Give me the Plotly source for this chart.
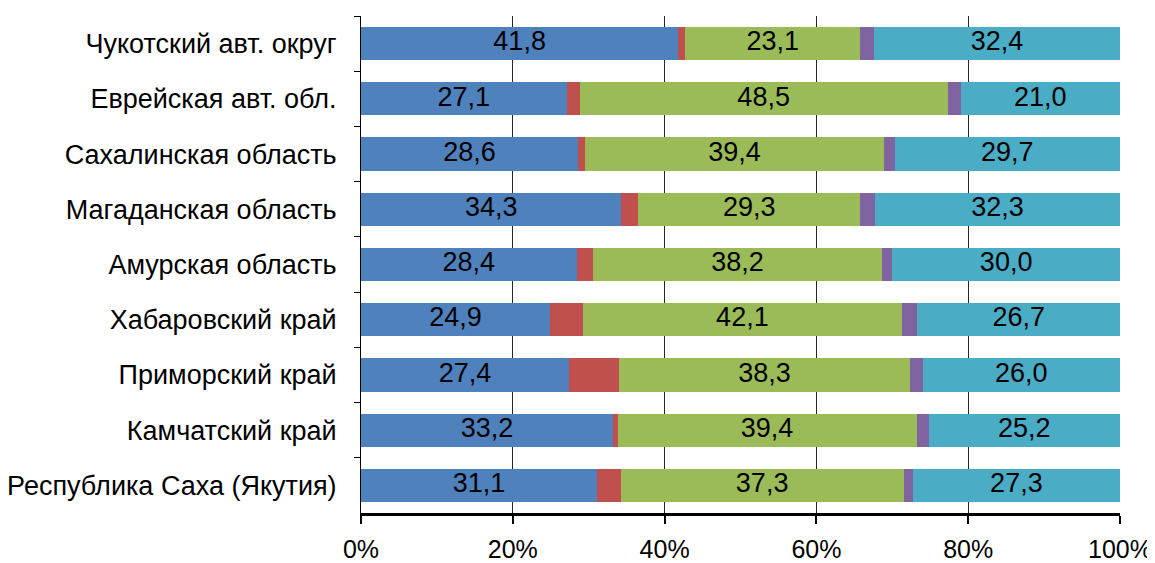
import plotly.graph_objects as go

regions = ["Чукотский авт. округ", "Еврейская авт. обл.", "Сахалинская область",
           "Магаданская область", "Амурская область", "Хабаровский край",
           "Приморский край", "Камчатский край", "Республика Саха (Якутия)"]

s1 = [41.8, 27.1, 28.6, 34.3, 28.4, 24.9, 27.4, 33.2, 31.1]
s2 = [0.9, 1.7, 0.9, 2.2, 2.1, 4.3, 6.6, 0.6, 3.1]
s3 = [23.1, 48.5, 39.4, 29.3, 38.2, 42.1, 38.3, 39.4, 37.3]
s4 = [1.8, 1.7, 1.4, 1.9, 1.3, 2.0, 1.7, 1.6, 1.2]
s5 = [32.4, 21.0, 29.7, 32.3, 30.0, 26.7, 26.0, 25.2, 27.3]

series = [(s1, "#4F81BD", True), (s2, "#C0504D", False), (s3, "#9BBB59", True),
          (s4, "#8064A2", False), (s5, "#4BACC6", True)]

FONT = "Liberation Sans, Arial, sans-serif"

fig = go.Figure()
base = [0.0] * len(regions)
for vals, color, labeled in series:
    fig.add_trace(go.Bar(
        y=regions, x=vals, orientation="h",
        marker=dict(color=color, line=dict(width=0)),
        showlegend=False, hoverinfo="x+y",
    ))
    if labeled:
        mids = [b + v / 2 for b, v in zip(base, vals)]
        fig.add_trace(go.Scatter(
            y=regions, x=mids, mode="text",
            text=[f"{v:.1f}".replace(".", ",") for v in vals],
            textposition="middle center",
            textfont=dict(family=FONT, size=27, color="black"),
            showlegend=False, hoverinfo="skip",
        ))
    base = [b + v for b, v in zip(base, vals)]

fig.update_layout(
    barmode="stack",
    width=1147, height=555,
    margin=dict(l=353, r=35, t=8, b=50),
    plot_bgcolor="white", paper_bgcolor="white",
    bargap=0.40,
    font=dict(family=FONT, color="black"),
)
fig.update_xaxes(
    range=[0, 100], tickvals=[0, 20, 40, 60, 80, 100],
    ticktext=["0%", "20%", "40%", "60%", "80%", "100%"],
    showgrid=True, gridcolor="#262626", gridwidth=1,
    showline=True, linecolor="black", linewidth=2.5,
    ticks="outside", ticklen=8, tickcolor="black", tickwidth=1.5,
    tickfont=dict(size=25, family=FONT), zeroline=False, automargin=False,
    ticklabelstandoff=4,
)
fig.update_yaxes(
    autorange="reversed", showline=True, linecolor="black", linewidth=1,
    ticks="outside", tickson="boundaries", ticklen=6, tickcolor="black",
    tickfont=dict(size=27, family=FONT), showgrid=False,
    ticklabelstandoff=18, automargin=False,
)
fig.write_html("out.html")
